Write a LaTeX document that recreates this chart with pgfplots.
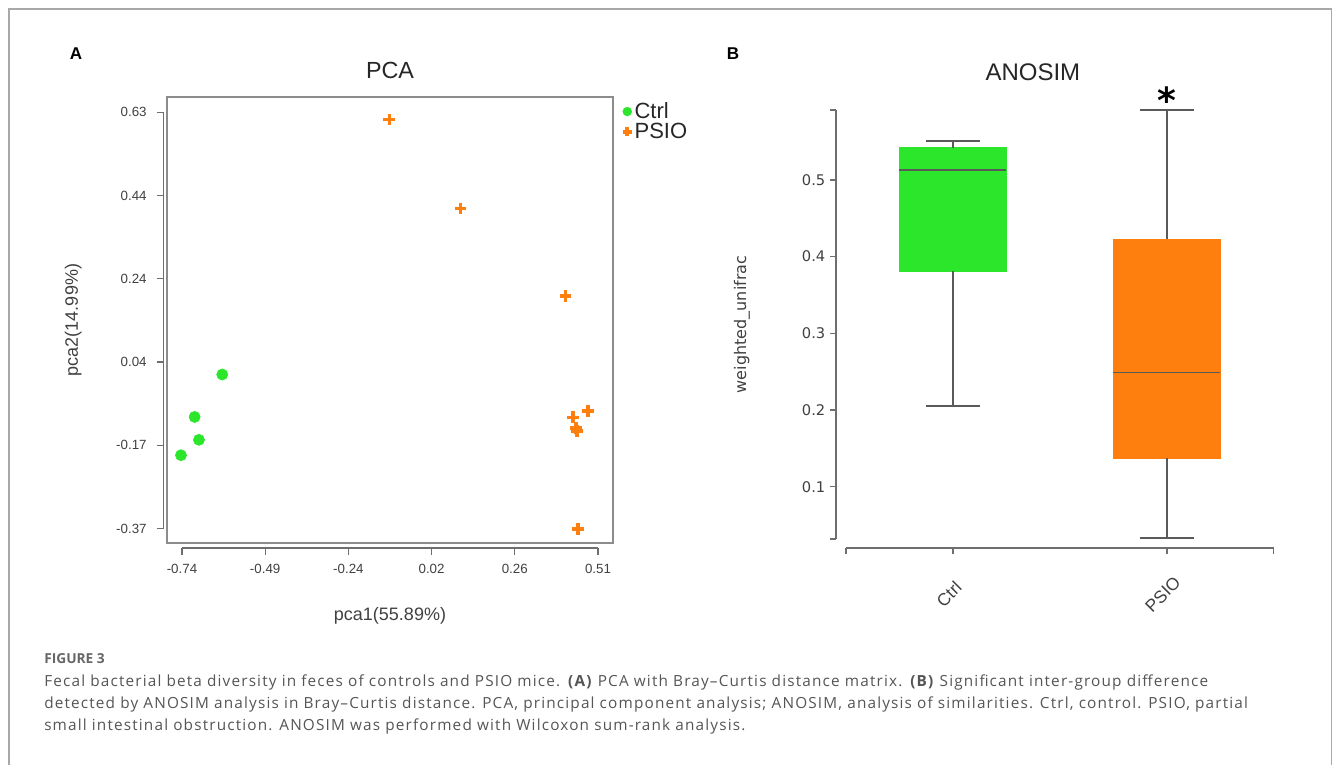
\documentclass[border=0pt]{standalone}
\usepackage{pgfplots}
\pgfplotsset{compat=1.18}
\usepackage{fontspec}
\setmainfont{Liberation Sans}
\newfontfamily\dejavu{DejaVu Sans}
\newfontfamily\opensans{Open Sans}
\newfontfamily\captionfont[LetterSpace=7.6]{Open Sans}

\definecolor{ctrlgreen}{HTML}{2BE62B}
\definecolor{psioorange}{HTML}{FF7F0E}
\definecolor{axisgray}{HTML}{6E6E6E}
\definecolor{boxgray}{HTML}{8C8C8C}
\definecolor{txtgray}{HTML}{404040}
\definecolor{capgray}{HTML}{555555}
\definecolor{framegray}{HTML}{A8A8A8}
\definecolor{whiskgray}{HTML}{5A5A5A}

\begin{document}
\begin{tikzpicture}
\useasboundingbox (0,0) rectangle (999.75pt,573pt);
\draw[framegray, line width=0.8pt] (6.75pt,-10pt) -- (6.75pt,566.25pt) -- (998.6pt,566.25pt) -- (998.6pt,-10pt);

% panel letters
\node[font=\bfseries\fontsize{12.8}{14}\selectfont] at (57pt,532.5pt) {A};
\node[font=\bfseries\fontsize{12.8}{14}\selectfont] at (549.75pt,532.5pt) {B};

% ---------------- A: PCA ----------------
\begin{axis}[
  at={(125.25pt,165.75pt)}, anchor=south west,
  scale only axis, width=334.5pt, height=334.5pt,
  xmin=-0.785, xmax=0.555, ymin=-0.405, ymax=0.667,
  axis x line*=bottom, axis y line*=left,
  axis x line shift=3.75pt, axis y line shift=2.5pt,
  axis line style={draw=none},
  xtick={-0.74,-0.49,-0.24,0.01,0.26,0.51},
  xticklabels={-0.74,-0.49,-0.24,0.02,0.26,0.51},
  ytick={-0.37,-0.17,0.03,0.23,0.43,0.63},
  yticklabels={-0.37,-0.17,0.04,0.24,0.44,0.63},
  tick align=outside, major tick length=5.25pt,
  tick style={axisgray, line width=0.9pt},
  ticklabel style={font=\fontsize{10}{12}\selectfont, text=txtgray},
  x tick label style={yshift=-3pt},
  y tick label style={xshift=-4pt},
  xlabel={pca1(55.89\%)}, ylabel={pca2(14.99\%)},
  every axis x label/.style={at={(rel axis cs:0.5,0)}, yshift=-54.5pt, anchor=center,
    font=\fontsize{13.5}{15}\selectfont, text=txtgray},
  every axis y label/.style={at={(rel axis cs:0,0.5)}, xshift=-70.3pt, rotate=90, anchor=center,
    font=\fontsize{13.5}{15}\selectfont, text=txtgray},
  title={PCA},
  every axis title/.style={at={(rel axis cs:0.5,1)}, yshift=20.25pt, anchor=center,
    font=\fontsize{17.5}{20}\selectfont, text=black!85},
  legend style={at={(rel axis cs:1,1)}, anchor=north west, xshift=6pt, yshift=-1pt,
    draw=none, fill=none, font=\fontsize{16.5}{18}\selectfont, text=black!85,
    row sep=-2pt, inner sep=1pt},
  legend cell align=left,
  legend image code/.code={\draw[#1, mark size=3.3pt] plot coordinates {(0pt,0pt)}; \path (-3.3pt,0pt) (3.3pt,0pt);},
  clip=false,
]
\addplot[only marks, mark=*, mark size=4.2pt, color=ctrlgreen,
  mark options={draw=ctrlgreen, fill=ctrlgreen}] coordinates {
  (-0.619,0.000) (-0.702,-0.102) (-0.689,-0.157) (-0.743,-0.194)
};
\addlegendentry{Ctrl}
\addplot[only marks, mark=+, mark size=4.4pt, color=psioorange,
  mark options={line width=2.7pt}] coordinates {
  (-0.117,0.613) (0.097,0.399) (0.412,0.188) (0.480,-0.088)
  (0.434,-0.103) (0.444,-0.128) (0.446,-0.136) (0.449,-0.371)
};
\addlegendentry{PSIO}
\draw[boxgray, line width=1.4pt] (rel axis cs:0,0) rectangle (rel axis cs:1,1);
\draw[axisgray, line width=0.9pt] ([yshift=-3.75pt]axis cs:-0.74,-0.405) -- ([yshift=-3.75pt]axis cs:0.51,-0.405);
\draw[axisgray, line width=0.9pt] ([xshift=-2.5pt]axis cs:-0.785,-0.37) -- ([xshift=-2.5pt]axis cs:-0.785,0.63);
\end{axis}

% ---------------- B: ANOSIM ----------------
\begin{axis}[
  at={(634.5pt,168.75pt)}, anchor=south west,
  scale only axis, width=320.8pt, height=321.75pt,
  xmin=0.5, xmax=2.5, ymin=0.0318, ymax=0.591,
  axis x line*=bottom, axis y line*=left,
  axis x line shift=7pt, axis y line shift=7.5pt,
  axis line style={axisgray, line width=1.3pt},
  xtick={1,2}, xticklabels={Ctrl,PSIO},
  extra x ticks={0.5,2.5}, extra x tick labels={},
  ytick={0.1,0.2,0.3,0.4,0.5},
  extra y ticks={0.0318,0.591}, extra y tick labels={},
  /pgf/number format/assume math mode=true,
  tick align=outside, major tick length=4.5pt,
  tick style={axisgray, line width=1.1pt},
  y tick label style={font=\dejavu\fontsize{11}{13}\selectfont, text=txtgray},
  x tick label style={font=\fontsize{13}{15}\selectfont, text=txtgray,
    xshift=-3pt, yshift=-30pt, rotate=45, anchor=center},
  ylabel={weighted\_unifrac},
  every axis y label/.style={at={(rel axis cs:0,0.5)}, xshift=-78pt, rotate=90, anchor=center,
    font=\dejavu\fontsize{12}{14}\selectfont, text=txtgray},
  title={ANOSIM},
  every axis title/.style={at={(rel axis cs:0.5,1)}, xshift=-20.25pt, yshift=28.5pt, anchor=center,
    font=\fontsize{18}{20}\selectfont, text=black!85},
  whisk/.style={draw=whiskgray, line width=1.45pt},
  clip=false,
]
% Ctrl: q1 0.3813, median 0.5126, q3 0.542, whiskers 0.2048 / 0.5505
\addplot[draw=ctrlgreen, fill=ctrlgreen, line width=0.4pt] coordinates {
  (0.75,0.3813) (1.25,0.3813) (1.25,0.542) (0.75,0.542) (0.75,0.3813)};
\addplot[draw=whiskgray, line width=1pt] coordinates {(0.75,0.5126) (1.25,0.5126)};
\addplot[whisk] coordinates {(1,0.542) (1,0.5505)};
\addplot[whisk] coordinates {(0.875,0.5505) (1.125,0.5505)};
\addplot[whisk] coordinates {(1,0.3813) (1,0.2048)};
\addplot[whisk] coordinates {(0.875,0.2048) (1.125,0.2048)};
% PSIO: q1 0.137, median 0.249, q3 0.4226, whiskers 0.0327 / 0.591
\addplot[draw=psioorange, fill=psioorange, line width=0.4pt] coordinates {
  (1.75,0.137) (2.25,0.137) (2.25,0.4226) (1.75,0.4226) (1.75,0.137)};
\addplot[draw=whiskgray, line width=1pt] coordinates {(1.75,0.249) (2.25,0.249)};
\addplot[whisk] coordinates {(2,0.4226) (2,0.591)};
\addplot[whisk] coordinates {(1.875,0.591) (2.125,0.591)};
\addplot[whisk] coordinates {(2,0.137) (2,0.0327)};
\addplot[whisk] coordinates {(1.875,0.0327) (2.125,0.0327)};
\node[font=\dejavu\bfseries\fontsize{27}{27}\selectfont, anchor=base, yshift=-3pt]
  at (axis cs:2,0.591) {*};
\end{axis}

% caption
\node[anchor=base west, inner sep=0pt, font=\opensans\bfseries\fontsize{10.3}{12}\selectfont, text=capgray!90]
  at (33pt,75.3pt) {FIGURE 3};
\node[anchor=base west, inner sep=0pt, font=\captionfont\fontsize{11.5}{13}\selectfont, text=capgray]
  at (33pt,58.5pt) {Fecal bacterial beta diversity in feces of controls and PSIO mice. \textbf{(A)} PCA with Bray–Curtis distance matrix. \textbf{(B)} Significant inter-group difference};
\node[anchor=base west, inner sep=0pt, font=\captionfont\fontsize{11.5}{13}\selectfont, text=capgray]
  at (33pt,41.8pt) {detected by ANOSIM analysis in Bray–Curtis distance. PCA, principal component analysis; ANOSIM, analysis of similarities. Ctrl, control. PSIO, partial};
\node[anchor=base west, inner sep=0pt, font=\captionfont\fontsize{11.5}{13}\selectfont, text=capgray]
  at (33pt,25.2pt) {small intestinal obstruction. ANOSIM was performed with Wilcoxon sum-rank analysis.};
\end{tikzpicture}
\end{document}
